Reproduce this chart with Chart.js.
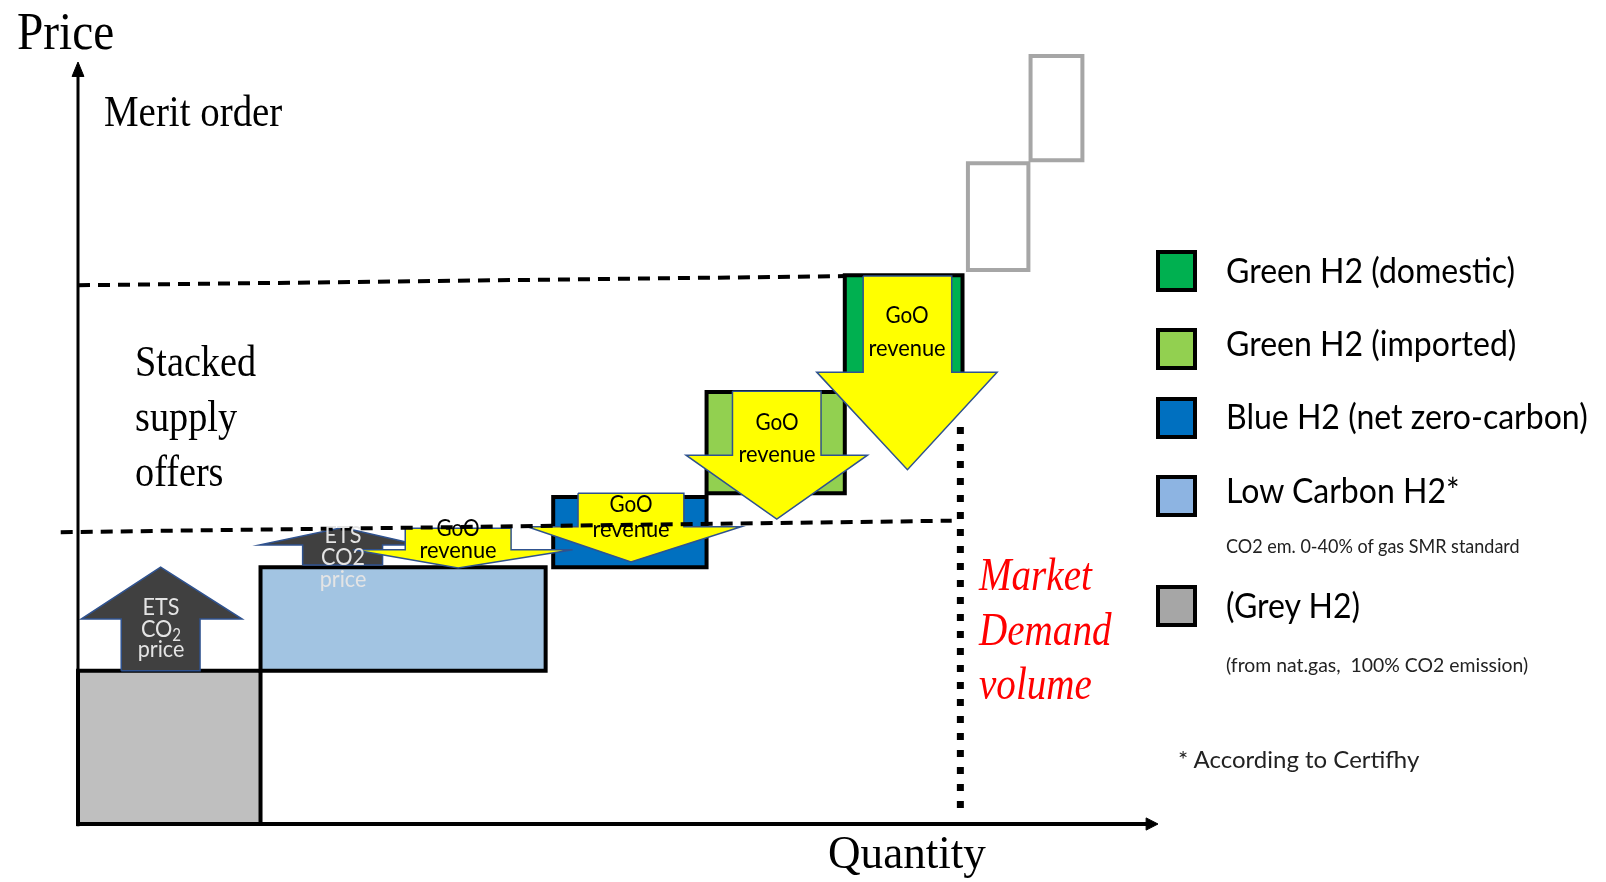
<!DOCTYPE html>
<html>
<head>
<meta charset="utf-8">
<script src="https://cdn.jsdelivr.net/npm/chart.js@4.4.1/dist/chart.umd.min.js"></script>
<style>
  html, body { margin: 0; padding: 0; background: #fff; }
  #wrap { position: relative; width: 1606px; height: 882px; overflow: hidden; }
  #chart { position: absolute; left: 0; top: 0; }
  .t { position: absolute; white-space: pre; line-height: 1; }
  .serif { font-family: "Liberation Serif", "Times New Roman", serif; color: #000; }
  .sans { font-family: Lato, "Open Sans", sans-serif; color: #000; }
  .sq { position: absolute; width: 33px; height: 34px; border: 4px solid #000; }
  sub { font-size: 0.7em; vertical-align: -0.25em; line-height: 0; }
</style>
</head>
<body>
<div id="wrap">
  <canvas id="chart" width="1606" height="882"></canvas>
</div>
<script>
// =========================
// DATA (chart units: quantity 0-100, price 0-100)
// =========================
const offerNames     = ['Grey H2', 'Low Carbon H2', 'Blue H2', 'Green H2 (imported)', 'Green H2 (domestic)'];
const offerQtyFrom   = [0, 16.9, 44.0, 58.2, 71.0];
const offerQtyTo     = [16.9, 43.3, 58.2, 71.0, 81.9];
const offerPriceFrom = [0, 20.1, 33.7, 43.4, 56.7];
const offerPriceTo   = [20.1, 33.7, 42.9, 56.7, 72.0];

// offers above the clearing price (outline only)
const extraQtyFrom   = [82.4, 88.2];
const extraQtyTo     = [88.0, 93.0];
const extraPriceFrom = [72.7, 87.1];
const extraPriceTo   = [86.7, 100.8];

// GoO revenue arrows (pointing down)
const gooShaftFrom = [30.3, 46.3, 60.6, 72.7];
const gooShaftTo   = [40.1, 56.1, 68.8, 80.9];
const gooHeadFrom  = [25.5, 41.6, 56.3, 68.4];
const gooHeadTo    = [45.8, 61.4, 73.1, 85.1];
const gooTop       = [38.8, 43.4, 56.8, 71.9];
const gooHeadBase  = [36.0, 39.0, 48.4, 59.3];
const gooTip       = [33.6, 34.4, 40.0, 46.5];
const gooWordPrice = [37.7, 40.9, 51.7, 65.7];   // baseline of "GoO"
const gooRevPrice  = [34.8, 37.6, 47.5, 61.3];   // baseline of "revenue"

// ETS CO2 price arrows (pointing up)
const etsShaftFrom = [4.0, 20.8];
const etsShaftTo   = [11.3, 28.2];
const etsHeadFrom  = [0.3, 16.8];
const etsHeadTo    = [15.2, 31.6];
const etsBottom    = [20.1, 34.0];
const etsHeadBase  = [26.9, 36.6];
const etsTip       = [33.7, 38.9];
const etsLinePrice = [[27.4, 24.5, 21.9], [36.9, 34.0, 31.1]];

// price levels and demand
const highPriceQty = [0, 71.0];
const highPriceVal = [70.7, 71.9];
const lowPriceQty  = [-1.6, 80.9];
const lowPriceVal  = [38.3, 39.8];
const demandQty    = 81.7;
const demandPrice  = [2.1, 52.8];
const axisMax      = 100;

// legend
const legendLabels = ['Green H2 (domestic)', 'Green H2 (imported)', 'Blue H2 (net zero-carbon)', 'Low Carbon H2*', '(Grey H2)'];
const legendNotes  = ['', '', '', 'CO2 em. 0-40% of gas SMR standard', '(from nat.gas,  100% CO2 emission)'];

// =========================
// STYLE / LAYOUT
// =========================
const ORIGIN_X = 78, ORIGIN_Y = 824, PX_X = 10.8, PX_Y = 7.62;
const X_MIN = -6, X_MAX = 102, Y_MIN = -3, Y_MAX = 103;
const offerColors  = ['#BFBFBF', '#A2C4E2', '#0070C0', '#92D050', '#00B050'];
const legendColors = ['#00B050', '#92D050', '#0070C0', '#8DB4E2', '#A6A6A6'];
const ARROW_EDGE = '#2F528F';

const datasets = [];
function addShape(points, style) {
  datasets.push(Object.assign({
    data: points,
    showLine: true,
    pointRadius: 0,
    pointHoverRadius: 0,
    tension: 0,
    fill: false,
    clip: false,
    borderJoinStyle: 'miter',
    borderCapStyle: 'butt'
  }, style));
}
const rect = (x0, x1, y0, y1) => [
  {x: x0, y: y0}, {x: x1, y: y0}, {x: x1, y: y1}, {x: x0, y: y1}, {x: x0, y: y0}
];
const arrow = (sf, st, hf, ht, start, base, tip) => {
  const c = (sf + st) / 2;
  return [
    {x: sf, y: start}, {x: st, y: start}, {x: st, y: base}, {x: ht, y: base},
    {x: c, y: tip}, {x: hf, y: base}, {x: sf, y: base}, {x: sf, y: start}
  ];
};

// supply blocks
offerNames.forEach((name, i) => {
  addShape(rect(offerQtyFrom[i], offerQtyTo[i], offerPriceFrom[i], offerPriceTo[i]), {
    label: name, fill: 'shape', backgroundColor: offerColors[i],
    borderColor: '#000', borderWidth: 4, borderCapStyle: 'square'
  });
});
extraQtyFrom.forEach((q, i) => {
  addShape(rect(q, extraQtyTo[i], extraPriceFrom[i], extraPriceTo[i]), {
    label: 'higher offer', borderColor: '#A6A6A6', borderWidth: 4, borderCapStyle: 'square'
  });
});

// ETS arrows
etsShaftFrom.forEach((s, i) => {
  addShape(arrow(s, etsShaftTo[i], etsHeadFrom[i], etsHeadTo[i], etsBottom[i], etsHeadBase[i], etsTip[i]), {
    label: 'ETS CO2 price', fill: 'shape', backgroundColor: '#404040',
    borderColor: ARROW_EDGE, borderWidth: 1.5
  });
});

// GoO arrows
gooShaftFrom.forEach((s, i) => {
  addShape(arrow(s, gooShaftTo[i], gooHeadFrom[i], gooHeadTo[i], gooTop[i], gooHeadBase[i], gooTip[i]), {
    label: 'GoO revenue', fill: 'shape', backgroundColor: '#FFFF00',
    borderColor: ARROW_EDGE, borderWidth: 1.5
  });
});

// price levels
addShape(highPriceQty.map((q, i) => ({x: q, y: highPriceVal[i]})), {
  label: 'high price', borderColor: '#000', borderWidth: 4, borderDash: [12, 8]
});
addShape(lowPriceQty.map((q, i) => ({x: q, y: lowPriceVal[i]})), {
  label: 'low price', borderColor: '#000', borderWidth: 4, borderDash: [12, 8]
});
addShape(demandPrice.map(p => ({x: demandQty, y: p})), {
  label: 'demand', borderColor: '#000', borderWidth: 7, borderDash: [7, 10]
});

// axes with arrow heads
addShape([{x: 0, y: -0.3}, {x: 0, y: axisMax - 1.7}], {label: 'price axis', borderColor: '#000', borderWidth: 3});
addShape([{x: -0.55, y: axisMax - 1.9}, {x: 0.55, y: axisMax - 1.9}, {x: 0, y: axisMax}, {x: -0.55, y: axisMax - 1.9}], {
  label: 'price arrow', fill: 'shape', backgroundColor: '#000', borderColor: '#000', borderWidth: 1
});
addShape([{x: -0.1, y: 0}, {x: axisMax - 1.0, y: 0}], {label: 'quantity axis', borderColor: '#000', borderWidth: 4});
addShape([{x: axisMax - 1.1, y: 0.8}, {x: axisMax, y: 0}, {x: axisMax - 1.1, y: -0.8}, {x: axisMax - 1.1, y: 0.8}], {
  label: 'quantity arrow', fill: 'shape', backgroundColor: '#000', borderColor: '#000', borderWidth: 1
});

// first pushed = back, last pushed = front
datasets.forEach((d, i) => { d.order = datasets.length - i; });

// =========================
// TEXT
// =========================
const wrap = document.getElementById('wrap');
const ASC = {serif: 0.8375, sans: 0.887};

function addText(html, x, baseline, o) {
  const el = document.createElement('div');
  el.className = 't ' + o.family;
  el.innerHTML = html;
  el.style.fontSize = o.size + 'px';
  el.style.left = x + 'px';
  el.style.top = (baseline - ASC[o.family] * o.size) + 'px';
  if (o.italic) el.style.fontStyle = 'italic';
  if (o.color) el.style.color = o.color;
  const sx = o.sx || 1;
  if (o.align === 'center') {
    el.style.transformOrigin = '50% 50%';
    el.style.transform = `translateX(-50%) scaleX(${sx})`;
  } else {
    el.style.transformOrigin = '0 50%';
    el.style.transform = `scaleX(${sx})`;
  }
  wrap.appendChild(el);
  return el;
}

const serif = (size, sx) => ({family: 'serif', size, sx});
addText('Price', 17, 50, serif(52, 0.91));
addText('Merit order', 104, 127, serif(45, 0.865));
addText('Stacked', 135, 377, serif(45, 0.85));
addText('supply', 135, 432, serif(45, 0.85));
addText('offers', 135, 487, serif(45, 0.85));
addText('Quantity', 828, 868, serif(47, 0.96));
['Market', 'Demand', 'volume'].forEach((w, i) => {
  addText(w, 979, [591, 646, 700][i], {family: 'serif', size: 46, sx: 0.85, italic: true, color: '#FF0000'});
});

// legend
const legendTop = [250, 328, 397, 475, 585];
const legendBase = [283, 356, 429, 503, 618];
const noteBase = [0, 0, 0, 553, 672];
const noteScale = [1, 1, 1, 0.9, 0.97];
legendLabels.forEach((lab, i) => {
  const sq = document.createElement('div');
  sq.className = 'sq';
  sq.style.left = '1156px';
  sq.style.top = legendTop[i] + 'px';
  sq.style.background = legendColors[i];
  wrap.appendChild(sq);
  addText(lab, 1226, legendBase[i], {family: 'sans', size: 35, sx: 0.915});
  if (legendNotes[i]) addText(legendNotes[i], 1226, noteBase[i], {family: 'sans', size: 20, sx: noteScale[i], color: '#222'});
});
addText('* According to Certifhy', 1178, 768, {family: 'sans', size: 24, color: '#222'});

// labels tied to arrows, placed through the chart scales
const arrowLabels = [];
gooShaftFrom.forEach((s, i) => {
  const q = (s + gooShaftTo[i]) / 2;
  arrowLabels.push({html: 'GoO', q, p: gooWordPrice[i], o: {family: 'sans', size: 23, sx: 0.9, align: 'center'}});
  arrowLabels.push({html: 'revenue', q, p: gooRevPrice[i], o: {family: 'sans', size: 23, sx: 0.95, align: 'center'}});
});
const etsLines = [['ETS', 'CO<sub>2</sub>', 'price'], ['ETS', 'CO2', 'price']];
etsShaftFrom.forEach((s, i) => {
  const q = (s + etsShaftTo[i]) / 2;
  etsLines[i].forEach((h, k) => {
    arrowLabels.push({html: h, q, p: etsLinePrice[i][k], o: {family: 'sans', size: 24, sx: 0.9, align: 'center', color: '#E4E4E4'}});
  });
});

const labelPlugin = {
  id: 'arrowLabels',
  afterDraw(chart) {
    if (chart.$labelsDone) return;
    chart.$labelsDone = true;
    const xs = chart.scales.x, ys = chart.scales.y;
    arrowLabels.forEach(l => addText(l.html, xs.getPixelForValue(l.q), ys.getPixelForValue(l.p), l.o));
  }
};

// =========================
// CHART
// =========================
new Chart(document.getElementById('chart'), {
  type: 'scatter',
  data: { datasets },
  options: {
    responsive: false,
    devicePixelRatio: 1,
    animation: false,
    events: [],
    layout: {
      padding: {
        left: ORIGIN_X + X_MIN * PX_X,
        right: 1606 - (ORIGIN_X + X_MAX * PX_X),
        top: ORIGIN_Y - Y_MAX * PX_Y,
        bottom: 882 - (ORIGIN_Y - Y_MIN * PX_Y)
      }
    },
    scales: {
      x: { type: 'linear', min: X_MIN, max: X_MAX, display: false },
      y: { type: 'linear', min: Y_MIN, max: Y_MAX, display: false }
    },
    plugins: {
      legend: { display: false },
      tooltip: { enabled: false }
    }
  },
  plugins: [labelPlugin]
});
</script>
</body>
</html>
